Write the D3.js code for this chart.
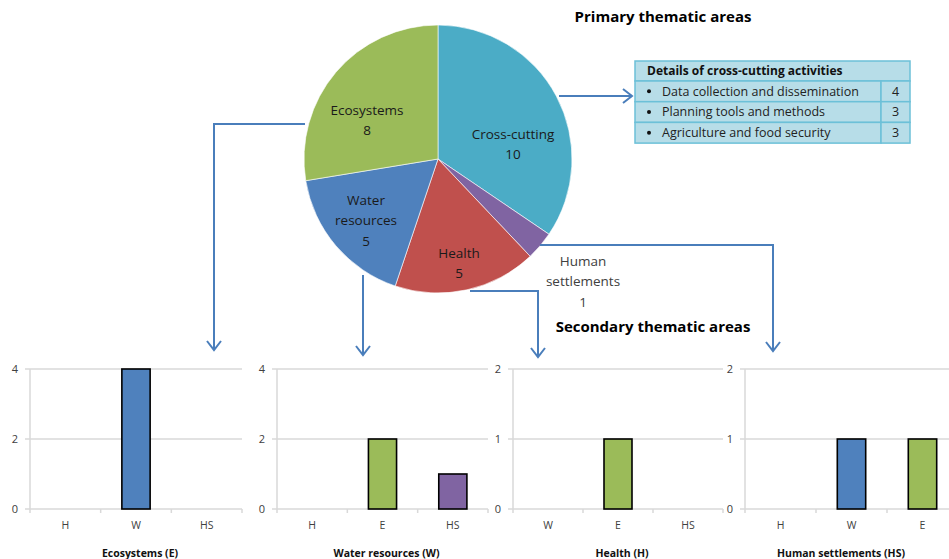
<!DOCTYPE html>
<html>
<head>
<meta charset="utf-8">
<script src="https://cdn.jsdelivr.net/npm/d3@7"></script>
<style>
  html, body { margin: 0; padding: 0; background: #fff; }
  svg { display: block; font-family: "Open Sans", "Noto Sans", sans-serif; }
</style>
</head>
<body>
<svg id="chart" width="949" height="559"></svg>
<script>
// Primary thematic areas (pie, clockwise from 12 o'clock)
const primaryAreas = ["Cross-cutting", "Human settlements", "Health", "Water resources", "Ecosystems"];
const primaryCounts = [10, 1, 5, 5, 8];
const primaryColors = ["#4bacc6", "#8064a2", "#c0504d", "#4f81bd", "#9bbb59"];

// Cross-cutting breakdown table
const crossCuttingItems = ["Data collection and dissemination", "Planning tools and methods", "Agriculture and food security"];
const crossCuttingCounts = [4, 3, 3];

// Secondary thematic areas, one small bar chart per primary area
const secondaryTitles = ["Ecosystems (E)", "Water resources (W)", "Health (H)", "Human settlements (HS)"];
const secondaryCategories = [["H", "W", "HS"], ["H", "E", "HS"], ["W", "E", "HS"], ["H", "W", "E"]];
const secondaryValues = [[0, 4, 0], [0, 2, 1], [0, 1, 0], [0, 1, 1]];
const secondaryMax = [4, 4, 2, 2];
const secondaryTicks = [[0, 2, 4], [0, 2, 4], [0, 1, 2], [0, 1, 2]];
const codeColors = { W: "#4f81bd", E: "#9bbb59", HS: "#8064a2", H: "#c0504d" };

const svg = d3.select("#chart");
const connectorColor = "#4a7ebb";

// ---- Pie ----
const cx = 438, cy = 159, R = 134;
const pie = d3.pie().sort(null).value(d => d)(primaryCounts);
const arc = d3.arc().innerRadius(0).outerRadius(R);
const gPie = svg.append("g").attr("transform", `translate(${cx},${cy})`);
gPie.selectAll("path").data(pie).join("path")
  .attr("d", arc)
  .attr("fill", (d, i) => primaryColors[i])
  .attr("stroke", "#fff").attr("stroke-width", 0.6);

// label anchors relative to the pie centre, one line per row
const labelLines = [
  ["Cross-cutting", String(primaryCounts[0])],
  ["Human", "settlements", String(primaryCounts[1])],
  ["Health", String(primaryCounts[2])],
  ["Water", "resources", String(primaryCounts[3])],
  ["Ecosystems", String(primaryCounts[4])]
];
const labelAnchor = [[75, -25], [145, 102], [21, 94], [-72, 41], [-71, -49]];
const lineH = 20.5;
labelLines.forEach((lines, i) => {
  const t = gPie.append("text")
    .attr("text-anchor", "middle")
    .attr("font-size", 13.5)
    .attr("fill", i === 1 ? "#404040" : "#1a1a1a");
  lines.forEach((s, k) => {
    t.append("tspan")
      .attr("x", labelAnchor[i][0])
      .attr("y", labelAnchor[i][1] + k * lineH)
      .attr("dy", "0.35em")
      .text(s);
  });
});

// ---- Titles ----
svg.append("text").attr("x", 663).attr("y", 17).attr("dy", "0.35em")
  .attr("text-anchor", "middle").attr("font-weight", "bold").attr("font-size", 15)
  .text("Primary thematic areas");
svg.append("text").attr("x", 653).attr("y", 327).attr("dy", "0.35em")
  .attr("text-anchor", "middle").attr("font-weight", "bold").attr("font-size", 15)
  .text("Secondary thematic areas");

// ---- Cross-cutting table ----
const tbl = { x: 635, y: 61, w: 275, valW: 29, headH: 20, rowH: 20.7 };
const gT = svg.append("g");
const fill = "#b7dde8", border = "#6cc0d8";
gT.append("rect").attr("x", tbl.x).attr("y", tbl.y).attr("width", tbl.w).attr("height", tbl.headH)
  .attr("fill", fill).attr("stroke", border).attr("stroke-width", 1.5);
gT.append("text").attr("x", tbl.x + 12).attr("y", tbl.y + tbl.headH / 2).attr("dy", "0.35em")
  .attr("font-size", 12).attr("font-weight", "bold").attr("fill", "#111")
  .text("Details of cross-cutting activities");
crossCuttingItems.forEach((name, i) => {
  const y = tbl.y + tbl.headH + i * tbl.rowH;
  gT.append("rect").attr("x", tbl.x).attr("y", y).attr("width", tbl.w - tbl.valW).attr("height", tbl.rowH)
    .attr("fill", fill).attr("stroke", border).attr("stroke-width", 1.5);
  gT.append("rect").attr("x", tbl.x + tbl.w - tbl.valW).attr("y", y).attr("width", tbl.valW).attr("height", tbl.rowH)
    .attr("fill", fill).attr("stroke", border).attr("stroke-width", 1.5);
  gT.append("circle").attr("cx", tbl.x + 14).attr("cy", y + tbl.rowH / 2).attr("r", 2).attr("fill", "#111");
  gT.append("text").attr("x", tbl.x + 27).attr("y", y + tbl.rowH / 2).attr("dy", "0.35em")
    .attr("font-size", 12.5).attr("fill", "#222").text(name);
  gT.append("text").attr("x", tbl.x + tbl.w - tbl.valW / 2).attr("y", y + tbl.rowH / 2).attr("dy", "0.35em")
    .attr("text-anchor", "middle").attr("font-size", 12.5).attr("fill", "#222").text(crossCuttingCounts[i]);
});

// ---- Connectors ----
function chevron(g, x, y, dir) {
  const s = 7, l = 9;
  let p;
  if (dir === "down") p = [[x - s, y - l], [x, y], [x + s, y - l]];
  else p = [[x - l, y - s], [x, y], [x - l, y + s]];
  g.append("path").attr("d", d3.line()(p)).attr("fill", "none")
    .attr("stroke", connectorColor).attr("stroke-width", 2);
}
const gC = svg.append("g");
const conn = [
  { pts: [[305, 124], [214, 124], [214, 350]], dir: "down" },
  { pts: [[363, 275], [363, 355]], dir: "down" },
  { pts: [[470, 291], [538, 291], [538, 357]], dir: "down" },
  { pts: [[540, 245], [773, 245], [773, 351]], dir: "down" },
  { pts: [[559, 96], [632, 96]], dir: "right" }
];
conn.forEach(c => {
  gC.append("path").attr("d", d3.line()(c.pts)).attr("fill", "none")
    .attr("stroke", connectorColor).attr("stroke-width", 2);
  const end = c.pts[c.pts.length - 1];
  chevron(gC, end[0], end[1], c.dir);
});

// ---- Secondary bar charts ----
const panels = [
  { x0: 30, x1: 242 },
  { x0: 277, x1: 488 },
  { x0: 513, x1: 723 },
  { x0: 745, x1: 958 }
];
const yTop = 369, yBot = 509;
const gridColor = "#d9d9d9";
panels.forEach((p, i) => {
  const g = svg.append("g");
  const xb = d3.scaleBand().domain(secondaryCategories[i]).range([p.x0, p.x1]);
  const y = d3.scaleLinear().domain([0, secondaryMax[i]]).range([yBot, yTop]);

  // gridlines and left ticks
  secondaryTicks[i].forEach(t => {
    g.append("line").attr("x1", p.x0 - 5).attr("x2", p.x1).attr("y1", y(t)).attr("y2", y(t))
      .attr("stroke", gridColor).attr("stroke-width", 1.5);
    g.append("text").attr("x", p.x0 - 12).attr("y", y(t)).attr("dy", "0.35em")
      .attr("text-anchor", "end").attr("font-size", 11).attr("fill", "#404040").text(t);
  });
  // vertical axis
  g.append("line").attr("x1", p.x0).attr("x2", p.x0).attr("y1", yTop).attr("y2", yBot + 4)
    .attr("stroke", gridColor).attr("stroke-width", 1.5);
  // category tick marks
  secondaryCategories[i].forEach((c, k) => {
    const tx = xb(c) + xb.bandwidth();
    if (tx < 949) g.append("line").attr("x1", tx).attr("x2", tx).attr("y1", yBot).attr("y2", yBot + 4)
      .attr("stroke", gridColor).attr("stroke-width", 1.5);
  });
  // bars
  secondaryCategories[i].forEach((c, k) => {
    const v = secondaryValues[i][k];
    if (v > 0) {
      const bx = xb(c) + xb.bandwidth() / 2 - xb.bandwidth() * 0.2;
      g.append("rect").attr("x", bx).attr("y", y(v))
        .attr("width", xb.bandwidth() * 0.4).attr("height", y(0) - y(v))
        .attr("fill", codeColors[c]).attr("stroke", "#000").attr("stroke-width", 1.6);
    }
    g.append("text").attr("x", xb(c) + xb.bandwidth() / 2).attr("y", 525).attr("dy", "0.35em")
      .attr("text-anchor", "middle").attr("font-size", 10.5).attr("fill", "#404040").text(c);
  });
  g.append("text").attr("x", (p.x0 + Math.min(p.x1, 949)) / 2 + (i === 3 ? -6 : 4)).attr("y", 553).attr("dy", "0.35em")
    .attr("text-anchor", "middle").attr("font-size", 10.5).attr("font-weight", "bold").attr("fill", "#111")
    .text(secondaryTitles[i]);
});
</script>
</body>
</html>
